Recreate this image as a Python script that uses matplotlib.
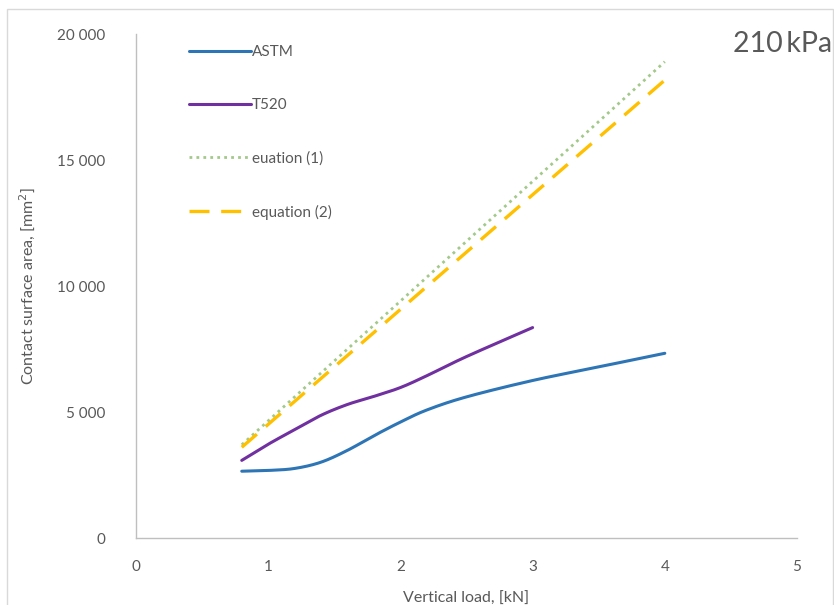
import numpy as np
import matplotlib
matplotlib.use("Agg")
import matplotlib.pyplot as plt
from matplotlib.patches import Rectangle

plt.rcParams['font.family'] = ['Lato', 'DejaVu Sans']

# Data
astm_x = [0.8, 1.0, 1.2, 1.4, 1.6, 1.8, 2.0, 2.2, 2.5, 3.0, 3.5, 4.0]
astm_y = [2650, 2680, 2760, 3010, 3480, 4060, 4600, 5080, 5600, 6250, 6790, 7330]
t520_x = [0.8, 1.0, 1.2, 1.4, 1.6, 1.8, 2.0, 2.2, 2.5, 3.0]
t520_y = [3080, 3720, 4300, 4870, 5300, 5620, 5970, 6440, 7200, 8350]
eq1_x = [0.8, 1.0, 2.0, 3.0, 4.0]
eq1_y = [3700, 4650, 9400, 14150, 18900]
eq2_x = [0.8, 1.0, 2.0, 3.0, 4.0]
eq2_y = [3600, 4510, 9070, 13620, 18170]
x_ticks = [0, 1, 2, 3, 4, 5]
y_ticks = [0, 5000, 10000, 15000, 20000]
y_tick_labels = ['0', '5 000', '10 000', '15 000', '20 000']


def smooth(xs, ys, n=30):
    """Excel-like smoothed line (Catmull-Rom through the data points)."""
    P = np.column_stack([xs, ys]).astype(float)
    out = []
    for i in range(len(P) - 1):
        p0 = P[i - 1] if i > 0 else P[i]
        p1 = P[i]
        p2 = P[i + 1]
        p3 = P[i + 2] if i + 2 < len(P) else P[i + 1]
        c1 = p1 + (p2 - p0) / 6.0
        c2 = p2 - (p3 - p1) / 6.0
        t = np.linspace(0, 1, n)[:, None]
        seg = ((1 - t) ** 3) * p1 + 3 * ((1 - t) ** 2) * t * c1 + 3 * (1 - t) * t ** 2 * c2 + t ** 3 * p2
        out.append(seg if i == 0 else seg[1:])
    s = np.vstack(out)
    return s[:, 0], s[:, 1]


fig = plt.figure(figsize=(8.34, 6.05), dpi=100)
fig.patches.append(Rectangle((7 / 834, -0.01), 826 / 834, (605 - 9) / 605 + 0.01,
                             transform=fig.transFigure, fill=False,
                             edgecolor='#d9d9d9', linewidth=1.0))
ax = fig.add_axes([136 / 834, 67 / 605, 661 / 834, 504 / 605])

sx, sy = smooth(astm_x, astm_y)
ax.plot(sx, sy, color='#2E75B6', lw=2.2, label='ASTM', solid_capstyle='round')
sx, sy = smooth(t520_x, t520_y)
ax.plot(sx, sy, color='#7030A0', lw=2.2, label='T520', solid_capstyle='round')
ax.plot(eq1_x, eq1_y, color='#A3C98A', lw=2.0, linestyle=(0, (1, 1.5)), label='euation (1)')
ax.plot(eq2_x, eq2_y, color='#FFC000', lw=2.4, linestyle=(0, (6, 3.5)), label='equation (2)')

ax.set_xlim(0, 5)
ax.set_ylim(0, 20000)
ax.set_xticks(x_ticks)
ax.set_yticks(y_ticks)
ax.set_yticklabels(y_tick_labels)
ax.tick_params(length=0, labelsize=11, colors='#595959')
ax.tick_params(axis='x', pad=16)
ax.tick_params(axis='y', pad=22)
for side in ['top', 'right']:
    ax.spines[side].set_visible(False)
for side in ['left', 'bottom']:
    ax.spines[side].set_color('#bfbfbf')
    ax.spines[side].set_linewidth(1.0)

ax.set_xlabel('Vertical load, [kN]', fontsize=11.5, color='#595959')
ax.set_ylabel('Contact surface area, [mm$^2$]', fontsize=11.5, color='#595959')
ax.yaxis.set_label_coords(-0.15, 0.5)
ax.xaxis.set_label_coords(0.5, -0.107)

leg = ax.legend(loc='upper left', bbox_to_anchor=(0.06, 1.005), frameon=False,
                fontsize=11, labelspacing=2.55, handlelength=4.0, handletextpad=0.1,
                labelcolor='#595959')

fig.text(0.998, 0.927, '210\u2009kPa', ha='right', va='center', fontsize=20.5, color='#595959')

fig.savefig('out.png', dpi=100)
